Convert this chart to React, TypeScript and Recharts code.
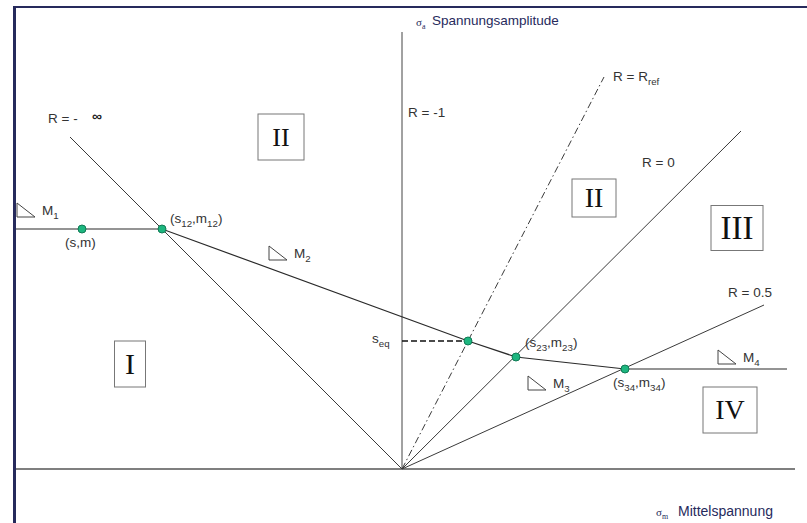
import React from 'react'
import { ComposedChart, Line, Scatter, XAxis, YAxis, ReferenceDot } from 'recharts'

const W = 807
const H = 523
const SANS = '"Liberation Sans", Arial, sans-serif'
const SERIF = '"Liberation Serif", "Times New Roman", serif'
const INK = '#333'
const NAVY = '#262a5c'

// Haigh diagram, sigma_m on x, sigma_a on y (diagram units)
const axisMean = [{ x: -96.5, y: 0 }, { x: 98.25, y: 0 }]
const rayMinusInf = [{ x: -83, y: 83 }, { x: 0, y: 0 }]
const rayMinusOne = [{ x: 0, y: 0 }, { x: 0, y: 109.25 }]
const rayRef = [{ x: 0, y: 0 }, { x: 50.5, y: 98 }]
const rayZero = [{ x: 0, y: 0 }, { x: 84.75, y: 84.5 }]
const rayHalf = [{ x: 0, y: 0 }, { x: 90.5, y: 41 }]

// piecewise limit line with slopes M1..M4
const limitLine = [
  { x: -96.5, y: 60 },
  { x: -60, y: 60 },
  { x: 16.5, y: 32 },
  { x: 28.5, y: 28 },
  { x: 55.75, y: 25 },
  { x: 96.25, y: 25 },
]
const keyPoints = [
  { x: -80, y: 60 },
  { x: -60, y: 60 },
  { x: 16.5, y: 32 },
  { x: 28.5, y: 28 },
  { x: 55.75, y: 25 },
]
const seqLevel = [{ x: 0, y: 32 }, { x: 16.5, y: 32 }]

// text labels: anchor (baseline-left) in diagram units
const labels = [
  { x: -88.5, y: 86.5, text: 'R = - ', extra: '∞' },
  { x: 1.5, y: 88, text: 'R = -1' },
  { x: 52.75, y: 97, text: 'R = R_{ref}' },
  { x: 60, y: 75.5, text: 'R = 0' },
  { x: 81.5, y: 43, text: 'R = 0.5' },
  { x: -84.25, y: 55.5, text: '(s,m)' },
  { x: -58, y: 61.5, text: '(s_{12},m_{12})' },
  { x: -7.5, y: 31.5, text: 's_{eq}' },
  { x: 30.75, y: 30.5, text: '(s_{23},m_{23})' },
  { x: 52.75, y: 20.5, text: '(s_{34},m_{34})' },
]

// slope markers: top-left corner of the triangle
const slopes = [
  { x: -96.25, y: 66.5, text: 'M_{1}' },
  { x: -33.25, y: 55.75, text: 'M_{2}' },
  { x: 31.5, y: 23.25, text: 'M_{3}' },
  { x: 79, y: 29.75, text: 'M_{4}' },
]

// region boxes: centre in diagram units
const regions = [
  { x: -30.25, y: 83, text: 'II', w: 46, h: 46, size: 26 },
  { x: 48, y: 67.75, text: 'II', w: 44, h: 38, size: 28 },
  { x: 83.75, y: 60.25, text: 'III', w: 52, h: 45, size: 33 },
  { x: 82, y: 14.75, text: 'IV', w: 54, h: 46, size: 28 },
  { x: -68, y: 26.25, text: 'I', w: 31, h: 46, size: 30 },
]

function Rich({ x, y, text, size = 13.5, fill = INK, family = SANS }: any) {
  const parts = text.split(/(_\{[^}]*\})/).filter(Boolean)
  let shifted = false
  return (
    <text x={x} y={y} fontSize={size} fill={fill} fontFamily={family}>
      {parts.map((p: string, i: number) => {
        if (p.startsWith('_{')) {
          shifted = true
          return (
            <tspan key={i} fontSize={size * 0.72} dy={size * 0.3}>
              {p.slice(2, -1)}
            </tspan>
          )
        }
        const dy = shifted ? -size * 0.3 : 0
        shifted = false
        return (
          <tspan key={i} dy={dy}>
            {p}
          </tspan>
        )
      })}
    </text>
  )
}

const Dot = (p: any) => (
  <circle cx={p.cx} cy={p.cy} r={4} fill="#1db67f" stroke="#117a55" strokeWidth={1} />
)

const ray = (data: { x: number; y: number }[], key: string, dash?: string, width = 1, color = '#3a3a3a') => (
  <Line
    key={key}
    data={data}
    dataKey="y"
    stroke={color}
    strokeWidth={width}
    strokeDasharray={dash}
    dot={false}
    activeDot={false}
    isAnimationActive={false}
  />
)

export default function App() {
  return (
    <div style={{ position: 'absolute', left: 0, top: 0, width: W, height: H, background: '#fff', overflow: 'hidden' }}>
      <div
        style={{
          position: 'absolute',
          left: 13,
          top: 6,
          width: W,
          height: H,
          borderTop: `2px solid ${NAVY}`,
          borderLeft: `3px solid ${NAVY}`,
        }}
      />
      <div style={{ position: 'absolute', left: 0, top: 0 }}>
        <ComposedChart width={W} height={H} margin={{ top: 0, right: 0, bottom: 0, left: 0 }}>
          <XAxis dataKey="x" type="number" domain={[-100.5, 101.25]} allowDataOverflow hide />
          <YAxis type="number" domain={[-13.5, 117.25]} allowDataOverflow hide />
          {ray(axisMean, 'axis', undefined, 1.5, '#555')}
          {ray(rayMinusOne, 'r-1', undefined, 1, '#444')}
          {ray(rayMinusInf, 'rinf')}
          {ray(rayRef, 'rref', '7 3 1.5 3')}
          {ray(rayZero, 'r0')}
          {ray(rayHalf, 'r05')}
          {ray(limitLine, 'limit', undefined, 1.2, '#2a2a2a')}
          {ray(seqLevel, 'seq', '6 3', 1.6, '#111')}
          <Scatter data={keyPoints} dataKey="y" shape={Dot} isAnimationActive={false} />

          {labels.map((l, i) => (
            <ReferenceDot
              key={`l${i}`}
              x={l.x}
              y={l.y}
              r={0}
              ifOverflow="visible"
              shape={(p: any) => (
                <g>
                  <Rich x={p.cx} y={p.cy} text={l.text} />
                  {l.extra && (
                    <text x={p.cx + 44} y={p.cy - 2} fontSize={14} fontWeight="bold" fill="#222" fontFamily={SANS}>
                      {l.extra}
                    </text>
                  )}
                </g>
              )}
            />
          ))}

          {slopes.map((s, i) => (
            <ReferenceDot
              key={`m${i}`}
              x={s.x}
              y={s.y}
              r={0}
              ifOverflow="visible"
              shape={(p: any) => (
                <g>
                  <path
                    d={`M${p.cx},${p.cy} L${p.cx},${p.cy + 14} L${p.cx + 18},${p.cy + 14} Z`}
                    fill="none"
                    stroke="#444"
                    strokeWidth={1}
                  />
                  <Rich x={p.cx + 25} y={p.cy + 12} text={s.text} />
                </g>
              )}
            />
          ))}

          {regions.map((r, i) => (
            <ReferenceDot
              key={`b${i}`}
              x={r.x}
              y={r.y}
              r={0}
              ifOverflow="visible"
              shape={(p: any) => (
                <g>
                  <rect
                    x={p.cx - r.w / 2}
                    y={p.cy - r.h / 2}
                    width={r.w}
                    height={r.h}
                    fill="none"
                    stroke="#777"
                    strokeWidth={1}
                  />
                  <text
                    x={p.cx}
                    y={p.cy + r.size * 0.33}
                    textAnchor="middle"
                    fontSize={r.size}
                    fontFamily={SERIF}
                    fill="#111"
                  >
                    {r.text}
                  </text>
                </g>
              )}
            />
          ))}

          {/* axis titles */}
          <ReferenceDot
            x={3.5}
            y={111}
            r={0}
            ifOverflow="visible"
            shape={(p: any) => (
              <g fontFamily={SANS} fill={NAVY}>
                <Rich x={p.cx} y={p.cy + 1} text="σ_{a}" size={11} fill={NAVY} family={SERIF} />
                <text x={p.cx + 16} y={p.cy} fontSize={13.5}>
                  Spannungsamplitude
                </text>
              </g>
            )}
          />
          <ReferenceDot
            x={63.5}
            y={-11.75}
            r={0}
            ifOverflow="visible"
            shape={(p: any) => (
              <g fontFamily={SANS} fill={NAVY}>
                <Rich x={p.cx} y={p.cy} text="σ_{m}" size={11} fill={NAVY} family={SERIF} />
                <text x={p.cx + 22} y={p.cy} fontSize={14}>
                  Mittelspannung
                </text>
              </g>
            )}
          />
        </ComposedChart>
      </div>
    </div>
  )
}
